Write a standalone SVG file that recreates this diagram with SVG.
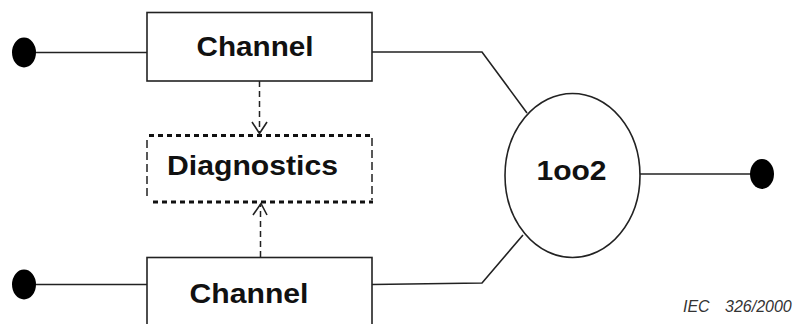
<svg xmlns="http://www.w3.org/2000/svg" width="798" height="324" viewBox="0 0 798 324">
<defs>
<style>
.box{fill:#fff;stroke:#222;stroke-width:1.6}
.wire{fill:none;stroke:#222;stroke-width:1.6}
.dash{fill:none;stroke:#222;stroke-width:1.5;stroke-dasharray:6 4}
.term{fill:#000}
.lbl{font-family:"Liberation Sans",Arial,sans-serif;font-weight:bold;font-size:28px;fill:#111;text-anchor:middle}
.hz{fill:none;stroke:#111;stroke-width:2.8;stroke-dasharray:5 4}
.vt{fill:none;stroke:#222;stroke-width:1.5;stroke-dasharray:8 4}
.note{font-family:"Liberation Sans",Arial,sans-serif;font-style:italic;font-size:16px;fill:#333}
</style>
</defs>
<rect width="798" height="324" fill="#fff"/>
<g id="connectors">
<line class="wire" x1="24" y1="52.5" x2="147" y2="52.5"/>
<line class="wire" x1="24" y1="284.5" x2="147" y2="284.5"/>
<polyline class="wire" points="372,52 482,52 527,113"/>
<polyline class="wire" points="372,284.5 482,283 523,235"/>
<line class="wire" x1="640" y1="174" x2="762" y2="174"/>
<line class="dash" x1="259.5" y1="81" x2="259.5" y2="133"/>
<polyline class="wire" points="252,122 259.5,133.5 267,122" stroke-width="1.5"/>
<line class="dash" x1="260.5" y1="257" x2="260.5" y2="204"/>
<polyline class="wire" points="253,215 261,203.5 267,215" stroke-width="1.5"/>
</g>
<g id="in1"><ellipse class="term" cx="24" cy="52.5" rx="12" ry="15"/></g>
<g id="in2"><ellipse class="term" cx="24" cy="284.5" rx="12" ry="15"/></g>
<g id="out"><ellipse class="term" cx="762" cy="174" rx="12" ry="15"/></g>
<g id="channel1">
<rect class="box" x="147" y="12.5" width="225" height="68.5"/>
<text class="lbl" x="255" y="56" textLength="117" lengthAdjust="spacingAndGlyphs">Channel</text>
</g>
<g id="diagnostics">
<line class="hz" x1="149" y1="135.5" x2="373" y2="135.5"/>
<line class="hz" x1="153" y1="202" x2="373" y2="202"/>
<line class="vt" x1="147" y1="140" x2="147" y2="200"/>
<line class="vt" x1="372" y1="138" x2="372" y2="200"/>
<text class="lbl" x="252.5" y="175" textLength="171" lengthAdjust="spacingAndGlyphs">Diagnostics</text>
</g>
<g id="channel2">
<rect class="box" x="147" y="257.5" width="225" height="80"/>
<text class="lbl" x="249" y="303" textLength="119" lengthAdjust="spacingAndGlyphs">Channel</text>
</g>
<g id="voter">
<ellipse class="box" cx="572.5" cy="175.5" rx="67.5" ry="82"/>
<text class="lbl" x="571.5" y="180" textLength="70" lengthAdjust="spacingAndGlyphs">1oo2</text>
</g>
<text class="note" x="683" y="311.5">IEC</text>
<text class="note" x="725" y="311.5">326/2000</text>
</svg>
